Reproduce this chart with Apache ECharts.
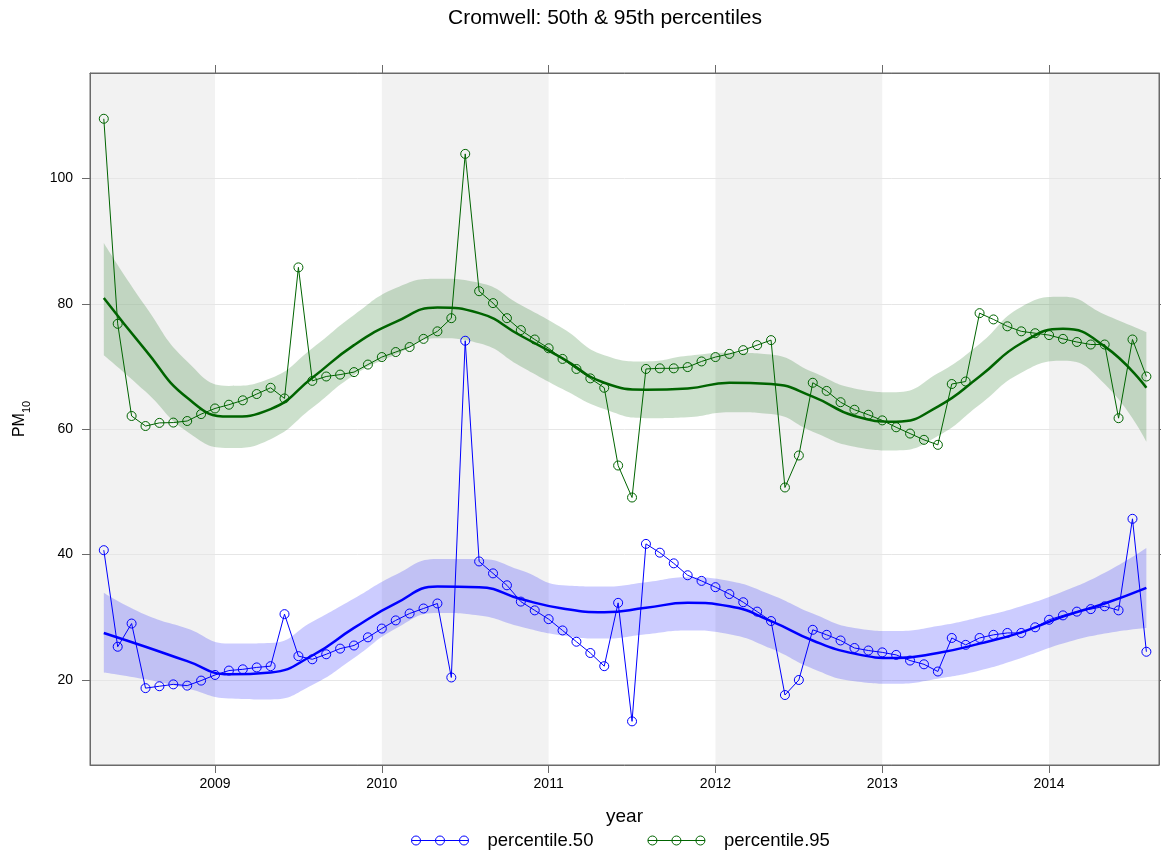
<!DOCTYPE html>
<html><head><meta charset="utf-8">
<script src="https://cdn.jsdelivr.net/npm/echarts@6/dist/echarts.min.js"></script>
<style>html,body{margin:0;padding:0;background:#fff}#c{width:1161px;height:852px}</style>
</head><body><div id="c"></div><script>
// monthly observations
const months = [
 '2008-05','2008-06','2008-07','2008-08','2008-09','2008-10','2008-11','2008-12',
 '2009-01','2009-02','2009-03','2009-04','2009-05','2009-06','2009-07','2009-08','2009-09','2009-10','2009-11','2009-12',
 '2010-01','2010-02','2010-03','2010-04','2010-05','2010-06','2010-07','2010-08','2010-09','2010-10','2010-11','2010-12',
 '2011-01','2011-02','2011-03','2011-04','2011-05','2011-06','2011-07','2011-08','2011-09','2011-10','2011-11','2011-12',
 '2012-01','2012-02','2012-03','2012-04','2012-05','2012-06','2012-07','2012-08','2012-09','2012-10','2012-11','2012-12',
 '2013-01','2013-02','2013-03','2013-04','2013-05','2013-06','2013-07','2013-08','2013-09','2013-10','2013-11','2013-12',
 '2014-01','2014-02','2014-03','2014-04','2014-05','2014-06','2014-07','2014-08'];
const percentile50 = [
 40.7,25.3,29.0,18.7,19.0,19.3,19.1,19.9,
 20.8,21.5,21.7,22.0,22.2,30.5,23.8,23.3,24.1,25.0,25.5,26.8,
 28.2,29.5,30.6,31.4,32.2,20.4,74.1,38.9,37.0,35.1,32.5,31.1,
 29.7,27.9,26.1,24.3,22.2,32.3,13.4,41.7,40.3,38.6,36.7,35.8,
 34.8,33.7,32.4,30.9,29.4,17.6,20.0,28.0,27.2,26.3,25.1,24.7,
 24.4,24.0,23.1,22.5,21.35,26.7,25.6,26.7,27.2,27.5,27.5,28.4,
 29.6,30.3,30.9,31.3,31.75,31.1,45.7,24.5];
const percentile95 = [
 109.5,76.8,62.1,60.5,61.0,61.05,61.3,62.4,
 63.3,63.9,64.6,65.6,66.6,64.9,85.8,67.7,68.4,68.7,69.1,70.3,
 71.5,72.3,73.1,74.4,75.6,77.7,103.9,82.0,80.1,77.7,75.8,74.3,
 72.9,71.2,69.6,68.1,66.6,54.2,49.1,69.6,69.7,69.7,69.9,70.8,
 71.5,72.0,72.6,73.4,74.2,50.7,55.8,67.4,66.1,64.3,63.1,62.3,
 61.4,60.3,59.3,58.3,57.5,67.2,67.6,78.5,77.5,76.4,75.6,75.3,
 75.0,74.4,73.9,73.5,73.5,61.75,74.3,68.4];
// smooth trend (read every 3 months)
const fitMonths = ['2008-05','2008-08','2008-11','2009-02','2009-05','2009-08','2009-11','2010-02','2010-05','2010-08','2010-11','2011-02','2011-05','2011-08','2011-11','2012-02','2012-05','2012-08','2012-11','2013-02','2013-05','2013-08','2013-11','2014-02','2014-05','2014-08'];
const fit50 = [27.5,25.3,23.0,20.9,21.2,23.9,28.3,32.2,34.9,34.8,32.9,31.4,30.8,31.5,32.3,31.75,29.4,26.3,24.2,23.5,24.3,25.8,27.6,30.1,32.2,34.7];
const upper50 = [33.9,30.4,28.2,25.8,25.9,29.3,33.0,36.8,39.3,39.3,37.5,35.1,34.9,35.6,36.4,35.8,33.6,30.6,28.3,27.8,28.6,30.0,31.75,34.1,37.1,41.05];
const lower50 = [21.2,20.1,18.65,17.05,16.9,19.2,23.5,28.2,30.7,30.3,28.5,27.1,26.6,27.3,27.9,27.3,25.0,21.8,19.8,19.4,20.2,21.5,23.5,25.8,27.4,28.3];
const fit95 = [80.9,72.6,65.0,62.0,63.2,68.2,73.4,77.1,79.4,78.5,74.9,71.3,67.4,66.3,66.5,67.4,67.2,65.2,62.1,61.2,63.6,68.4,73.7,76.0,73.2,66.6];
const upper95 = [89.7,79.6,70.8,66.9,68.1,72.9,78.2,82.5,84.0,83.35,79.8,76.1,71.8,70.8,71.7,72.2,71.9,69.1,66.5,65.9,68.9,73.6,79.5,81.1,78.3,75.5];
const lower95 = [71.8,66.0,59.6,57.0,58.4,63.4,68.6,71.9,74.5,73.7,70.0,66.4,63.2,61.75,61.9,62.7,62.4,59.6,57.2,56.6,58.9,63.9,69.0,70.9,67.2,58.0];
const yearTicks = [2009,2010,2011,2012,2013,2014];
const yTicks = [20,40,60,80,100];
const shadedYears = [2008,2010,2012,2014];

const X_MIN = 2008.2506, X_MAX = 2014.659, Y_MIN = 6.44, Y_MAX = 116.8;
const toX = s => { const p = s.split('-').map(Number); return p[0] + (p[1]-1)/12; };
const pairs = (ms, vs) => ms.map((m,i) => [toX(m), vs[i]]);
// value first, so that stacking happens on the y dimension
const pairsYX = (ms, vs) => ms.map((m,i) => [vs[i], toX(m)]);
const diff = (a,b) => a.map((v,i) => +(v - b[i]).toFixed(3));

const iconPath = 'path://M0,5L57,5M9,5A4.5,4.5,0,1,1,0,5A4.5,4.5,0,1,1,9,5M33,5A4.5,4.5,0,1,1,24,5A4.5,4.5,0,1,1,33,5M57,5A4.5,4.5,0,1,1,48,5A4.5,4.5,0,1,1,57,5';
const FONT = 'Liberation Sans, Arial, sans-serif';
const AX = '#6a6a6a';

const bandSeries = (name, stack, data, area) => ({
  name, type:'line', stack, smooth:true, symbol:'none', silent:true,
  encode:{x:1, y:0}, lineStyle:{width:0, opacity:0},
  areaStyle: area ? {color:area, opacity:1} : undefined, data
});

const chart = echarts.init(document.getElementById('c'), null, {renderer:'canvas'});
chart.setOption({
  animation:false,
  backgroundColor:'#fff',
  title:{text:'Cromwell: 50th & 95th percentiles', left:600, textAlign:'center', top:3,
    textStyle:{fontFamily:FONT, fontSize:21, fontWeight:'normal', color:'#000'}},
  grid:{left:90, right:2, top:73, bottom:87, show:true, borderColor:AX, borderWidth:1, backgroundColor:'transparent', containLabel:false},
  legend:{left:406, top:826, itemWidth:57, itemHeight:10, itemGap:54,
    textStyle:{fontFamily:FONT, fontSize:18.5, color:'#000', padding:[0,0,0,14]},
    data:[
      {name:'percentile.50', icon:iconPath, itemStyle:{color:'transparent', borderColor:'#0000ff', borderWidth:1}},
      {name:'percentile.95', icon:iconPath, itemStyle:{color:'transparent', borderColor:'#006400', borderWidth:1}}
    ]},
  xAxis:[
    {type:'value', min:X_MIN, max:X_MAX, position:'bottom',
     name:'year', nameLocation:'middle', nameGap:42, nameTextStyle:{fontFamily:FONT, fontSize:19, color:'#000'},
     axisLine:{show:true, lineStyle:{color:AX}},
     axisTick:{show:true, inside:false, length:8, lineStyle:{color:AX}, customValues:yearTicks},
     axisLabel:{show:true, margin:12, fontFamily:FONT, fontSize:14, color:'#000', customValues:yearTicks, formatter:v=>String(Math.round(v))},
     splitLine:{show:false}},
    {type:'value', min:X_MIN, max:X_MAX, position:'top',
     axisLine:{show:true, lineStyle:{color:AX}},
     axisTick:{show:true, inside:false, length:8, lineStyle:{color:AX}, customValues:yearTicks},
     axisLabel:{show:false}, splitLine:{show:false}}
  ],
  yAxis:[
    {type:'value', min:Y_MIN, max:Y_MAX, position:'left',
     name:'{m|PM}{s|10}', nameLocation:'middle', nameGap:58, nameRotate:90,
     nameTextStyle:{fontFamily:FONT, color:'#000',
       rich:{m:{fontFamily:FONT, fontSize:16, color:'#000', lineHeight:24, verticalAlign:'middle'},
             s:{fontFamily:FONT, fontSize:11, color:'#000', lineHeight:24, verticalAlign:'bottom'}}},
     axisLine:{show:true, lineStyle:{color:AX}},
     axisTick:{show:true, inside:false, length:8, lineStyle:{color:AX}, customValues:yTicks},
     axisLabel:{show:true, margin:17, fontFamily:FONT, fontSize:14, color:'#000', customValues:yTicks},
     splitLine:{show:false}},
    {type:'value', min:Y_MIN, max:Y_MAX, position:'right',
     axisLine:{show:true, lineStyle:{color:AX}},
     axisTick:{show:true, inside:false, length:6, lineStyle:{color:AX}, customValues:yTicks},
     axisLabel:{show:false}, splitLine:{show:false}}
  ],
  series:[
    {name:'bg', type:'line', data:[], z:-5, silent:true,
     markArea:{silent:true, z:-6, itemStyle:{color:'#f2f2f2'},
       data: shadedYears.map(y => [{xAxis:Math.max(y, X_MIN)}, {xAxis:Math.min(y+1, X_MAX)}])},
     markLine:{silent:true, z:-5, symbol:['none','none'], label:{show:false},
       lineStyle:{color:'#e6e6e6', width:1, type:'solid'},
       data: yTicks.map(v => ({yAxis:v}))}},
    bandSeries('lo95', 'b95', pairsYX(fitMonths, lower95), null),
    bandSeries('band95', 'b95', pairsYX(fitMonths, diff(upper95, lower95)), 'rgba(0,100,0,0.2)'),
    bandSeries('lo50', 'b50', pairsYX(fitMonths, lower50), null),
    bandSeries('band50', 'b50', pairsYX(fitMonths, diff(upper50, lower50)), 'rgba(0,0,255,0.2)'),
    {name:'percentile.95', type:'line', symbol:'circle', symbolSize:9,
     itemStyle:{color:'transparent', borderColor:'#006400', borderWidth:1},
     lineStyle:{color:'#006400', width:1}, data:pairs(months, percentile95)},
    {name:'percentile.50', type:'line', symbol:'circle', symbolSize:9,
     itemStyle:{color:'transparent', borderColor:'#0000ff', borderWidth:1},
     lineStyle:{color:'#0000ff', width:1}, data:pairs(months, percentile50)},
    {name:'fit95', type:'line', smooth:true, symbol:'none', silent:true,
     lineStyle:{color:'#006400', width:2.5}, data:pairs(fitMonths, fit95)},
    {name:'fit50', type:'line', smooth:true, symbol:'none', silent:true,
     lineStyle:{color:'#0000ff', width:2.5}, data:pairs(fitMonths, fit50)}
  ]
});
</script></body></html>
